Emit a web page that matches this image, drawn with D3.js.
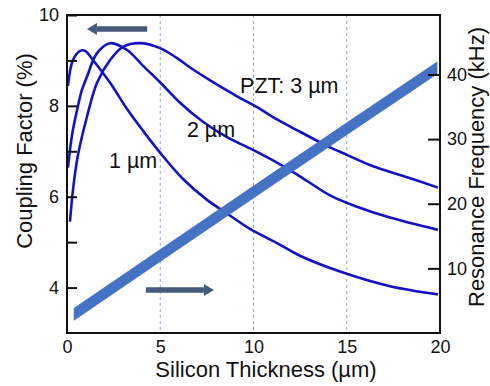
<!DOCTYPE html>
<html>
<head>
<meta charset="utf-8">
<script src="https://cdn.jsdelivr.net/npm/d3@7"></script>
<style>
  body { margin: 0; background: #fff; }
  text { font-family: "Liberation Sans", Arial, sans-serif; fill: #111; }
</style>
</head>
<body>
<div id="chart"></div>
<script>
// Silicon thickness (µm) vs coupling factor (%) for three PZT thicknesses
const thick1 = [0.05, 0.32, 0.7, 0.97, 1.39, 2.31, 3.22, 4.08, 4.99, 6.22, 7.51, 8.58, 9.81, 11.26, 12.49, 14.8, 17.32, 19.89];
const pzt1um = [8.44, 9.01, 9.21, 9.21, 9.01, 8.51, 7.93, 7.45, 6.97, 6.39, 5.93, 5.63, 5.29, 4.98, 4.7, 4.33, 4.03, 3.85];

const thick2 = [0.05, 0.27, 0.54, 0.8, 1.07, 1.61, 2.31, 3.22, 4.08, 4.99, 6.06, 7.29, 8.58, 9.97, 11.26, 12.49, 14.1, 15.55, 17.32, 19.89];
const pzt2um = [6.64, 7.36, 7.91, 8.35, 8.64, 9.16, 9.38, 9.23, 8.88, 8.52, 8.07, 7.65, 7.31, 7.03, 6.75, 6.45, 6.03, 5.78, 5.54, 5.27];

const thick3 = [0.16, 0.32, 0.54, 0.7, 1.07, 1.61, 2.31, 3.0, 3.91, 4.99, 5.9, 6.76, 7.83, 9.12, 10.19, 11.26, 12.49, 13.94, 15.01, 16.41, 18.23, 19.89];
const pzt3um = [5.45, 6.15, 6.81, 7.14, 7.76, 8.51, 9.01, 9.3, 9.38, 9.27, 9.05, 8.8, 8.52, 8.21, 7.97, 7.7, 7.43, 7.12, 6.92, 6.67, 6.43, 6.2];

// Resonance frequency (kHz)
const freqThick = [0.38, 5, 10, 15, 19.84];
const freqKHz = [2.9, 12.0, 21.8, 31.6, 41.0];

const xTicks = [0, 5, 10, 15, 20];
const gridTicks = [5, 10, 15];
const leftTicks = [4, 5, 6, 7, 8, 9, 10];
const rightTicks = [10, 20, 30, 40];

// annotations: [x, value]
const curveLabels = [
  { text: "PZT: 3 µm", x: 9.28, y: 8.29 },
  { text: "2 µm", x: 6.43, y: 7.32 },
  { text: "1 µm", x: 2.25, y: 6.64 }
];
const arrowLeftX = [4.3, 1.07], arrowLeftY = 9.69;    // points to coupling axis
const arrowRightX = [4.23, 7.88], arrowRightY = 6.65; // points to frequency axis

const W = 490, H = 386;
const plot = { left: 67, right: 440, top: 15, bottom: 333 };

const svg = d3.select("#chart").append("svg")
  .attr("width", W)
  .attr("height", H);

const x = d3.scaleLinear().domain([0, 20]).range([plot.left, plot.right]);
const yL = d3.scaleLinear().domain([3, 10]).range([plot.bottom, plot.top]);
const yR = d3.scaleLinear().domain([0, 49.2]).range([plot.bottom, plot.top]);

// dashed verticals
svg.append("g").selectAll("line")
  .data(gridTicks)
  .enter().append("line")
  .attr("x1", d => x(d)).attr("x2", d => x(d))
  .attr("y1", plot.top).attr("y2", plot.bottom)
  .attr("stroke", "#8fa9d8")
  .attr("stroke-width", 1)
  .attr("stroke-dasharray", "3,3");

// coupling curves
const line = d3.line()
  .x(d => x(d[0]))
  .y(d => yL(d[1]))
  .curve(d3.curveCatmullRom.alpha(0.5));

[[thick1, pzt1um], [thick2, pzt2um], [thick3, pzt3um]].forEach(([xs, ys]) => {
  svg.append("path")
    .datum(xs.map((v, i) => [v, ys[i]]))
    .attr("fill", "none")
    .attr("stroke", "#1212c6")
    .attr("stroke-width", 2.6)
    .attr("stroke-linejoin", "round")
    .attr("d", line);
});

// frequency band
const band = d3.area()
  .x(d => x(d[0]))
  .y0(d => yR(d[1]) + 6)
  .y1(d => yR(d[1]) - 6);

svg.append("path")
  .datum(freqThick.map((v, i) => [v, freqKHz[i]]))
  .attr("fill", "#4472c4")
  .attr("stroke", "#3d66b3")
  .attr("stroke-width", 0.6)
  .attr("d", band);

// arrows
function arrow(x0, x1, yPix) {
  const dir = Math.sign(x1 - x0);
  const tip = x(x1);
  const base = tip - dir * 10;
  svg.append("line")
    .attr("x1", x(x0)).attr("x2", base)
    .attr("y1", yPix).attr("y2", yPix)
    .attr("stroke", "#465a7c")
    .attr("stroke-width", 5.5);
  svg.append("path")
    .attr("d", `M${tip},${yPix}L${base},${yPix - 6}L${base},${yPix + 6}Z`)
    .attr("fill", "#465a7c");
}
arrow(arrowLeftX[0], arrowLeftX[1], yL(arrowLeftY));
arrow(arrowRightX[0], arrowRightX[1], yR(arrowRightY));

// axes
const leftAxis = svg.append("g")
  .attr("transform", `translate(${plot.left},0)`)
  .call(d3.axisLeft(yL).tickValues(leftTicks).tickSizeInner(-10).tickSizeOuter(0).tickPadding(8)
    .tickFormat(d => d % 2 === 0 ? d : ""));

const rightAxis = svg.append("g")
  .attr("transform", `translate(${plot.right},0)`)
  .call(d3.axisRight(yR).tickValues(rightTicks).tickSizeInner(-12).tickSizeOuter(0).tickPadding(7));

const bottomAxis = svg.append("g")
  .attr("transform", `translate(0,${plot.bottom})`)
  .call(d3.axisBottom(x).tickValues(xTicks).tickSize(0).tickPadding(7));

[leftAxis, rightAxis, bottomAxis].forEach(g => {
  g.select(".domain").remove();
  g.selectAll(".tick line").attr("stroke", "#111").attr("stroke-width", 2);
  g.selectAll(".tick text")
    .attr("font-size", "18px")
    .attr("font-family", "Liberation Sans, Arial, sans-serif")
    .attr("fill", "#111");
});

// frame
svg.append("rect")
  .attr("x", plot.left).attr("y", plot.top)
  .attr("width", plot.right - plot.left)
  .attr("height", plot.bottom - plot.top)
  .attr("fill", "none")
  .attr("stroke", "#111")
  .attr("stroke-width", 2);

// curve labels
svg.selectAll(".clabel")
  .data(curveLabels)
  .enter().append("text")
  .attr("class", "clabel")
  .attr("x", d => x(d.x))
  .attr("y", d => yL(d.y))
  .attr("font-size", "21.5px")
  .text(d => d.text);

// axis titles
svg.append("text")
  .attr("x", 266)
  .attr("y", 377)
  .attr("text-anchor", "middle")
  .attr("font-size", "22px")
  .text("Silicon Thickness (µm)");

svg.append("text")
  .attr("transform", "translate(32,151) rotate(-90)")
  .attr("text-anchor", "middle")
  .attr("font-size", "22px")
  .text("Coupling Factor (%)");

svg.append("text")
  .attr("transform", "translate(484,167) rotate(-90)")
  .attr("text-anchor", "middle")
  .attr("font-size", "22px")
  .text("Resonance Frequency (kHz)");
</script>
</body>
</html>
